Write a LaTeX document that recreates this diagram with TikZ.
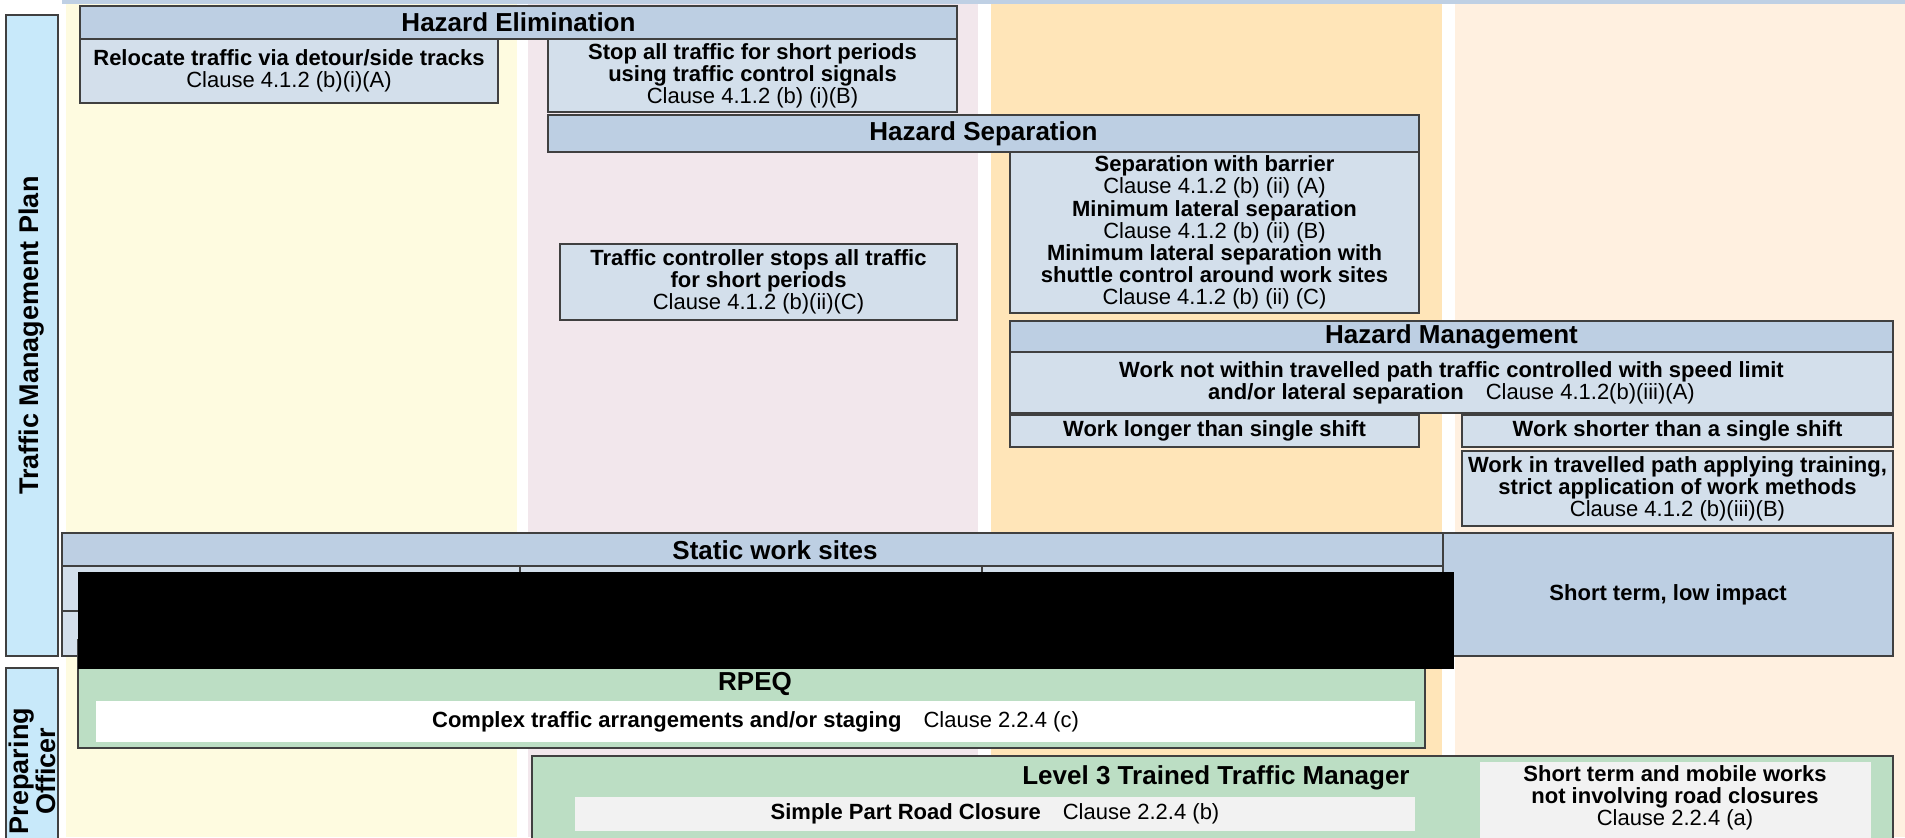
\documentclass[tikz,border=0pt]{standalone}
\usepackage{fontspec}
\setmainfont{Liberation Sans}
\usetikzlibrary{fit}
\definecolor{edge}{HTML}{404040}
\definecolor{bandblue}{HTML}{BFD0E4}
\definecolor{sideblue}{HTML}{C8E9FA}
\definecolor{headblue}{HTML}{BDCFE3}
\definecolor{itemblue}{HTML}{D3DFEB}
\definecolor{laneyellow}{HTML}{FEFBE0}
\definecolor{lanepink}{HTML}{F2E7EC}
\definecolor{laneorange}{HTML}{FFE5B8}
\definecolor{lanepeach}{HTML}{FFF0E0}
\definecolor{rolegreen}{HTML}{BCDEC4}
\definecolor{bargrey}{HTML}{F2F2F2}
\newcommand{\itemfont}{\fontsize{11}{11.1}\selectfont\bfseries}
\newcommand{\headfont}{\fontsize{13}{14}\selectfont\bfseries}
\newcommand{\clause}[1]{\textmd{Clause #1}}
\tikzset{
%Define style for header bars
headbox/.style={
	rectangle,
	draw=edge, line width=0.75pt,
	fill=headblue,
	inner sep=0pt},
%Define style for method boxes
itembox/.style={
	rectangle,
	draw=edge, line width=0.75pt,
	fill=itemblue,
	inner sep=0pt},
%Define style for the side labels
sidebox/.style={
	rectangle,
	draw=edge, line width=0.75pt,
	fill=sideblue,
	inner sep=0pt,
	align=center,
	rotate=90,
	font=\fontsize{13.5}{11.5}\selectfont\bfseries},
%Define style for officer boxes
rolebox/.style={
	rectangle,
	draw=edge, line width=0.75pt,
	fill=rolegreen,
	inner sep=0pt},
barbox/.style={
	rectangle,
	fill=#1,
	inner sep=0pt},
% text set inside the boxes
headtext/.style={
	inner sep=0pt,
	font=\headfont},
itemtext/.style={
	inner sep=0pt,
	align=center,
	font=\itemfont}
}
\begin{document}
\begin{tikzpicture}[x=0.5pt, y=-0.5pt]
\clip (0,0) rectangle (1905,837);
\fill[white] (0,0) rectangle (1905,837);
% lanes
\fill[laneyellow] (66,4) rectangle (517,837);
\fill[lanepink] (528,4) rectangle (978,837);
\fill[laneorange] (991,4) rectangle (1442,837);
\fill[lanepeach] (1455,4) rectangle (1905,837);
\fill[bandblue] (62,0) rectangle (1905,4);
% side labels
\node[sidebox, minimum width=320.5pt, minimum height=26pt] (plan) at (32,335.5) {Traffic Management Plan};
\node[sidebox, minimum width=103pt, minimum height=26pt] (officer) at (32,771) {Preparing\\Officer};
% hazard elimination
\node[headbox, fit={(80,6) (957,39)}] (elim) {};
\node[headtext] (elimtext) at (elim.center) {Hazard Elimination};
\node[itembox, fit={(80,39) (498,103)}] (detour) {};
\node[itemtext] (detourtext) at (detour.center) {Relocate traffic via detour/side tracks\\\clause{4.1.2 (b)(i)(A)}};
\node[itembox, fit={(548,39) (957,112)}] (signals) {};
\node[itemtext] (signalstext) at (signals.center) {Stop all traffic for short periods\\using traffic control signals\\\clause{4.1.2 (b) (i)(B)}};
% hazard separation
\node[headbox, fit={(548,115) (1419,152)}] (separ) {};
\node[headtext] (separtext) at (separ.center) {Hazard Separation};
\node[itembox, fit={(1010,152) (1419,313)}] (barrier) {};
\node[itemtext] (barriertext) at (barrier.center) {Separation with barrier\\\clause{4.1.2 (b) (ii) (A)}\\Minimum lateral separation\\\clause{4.1.2 (b) (ii) (B)}\\Minimum lateral separation with\\shuttle control around work sites\\\clause{4.1.2 (b) (ii) (C)}};
\node[itembox, fit={(560,244) (957,320)}] (controller) {};
\node[itemtext] (controllertext) at (controller.center) {Traffic controller stops all traffic\\for short periods\\\clause{4.1.2 (b)(ii)(C)}};
% hazard management
\node[headbox, fit={(1010,321) (1893,352)}] (manage) {};
\node[headtext] (managetext) at (manage.center) {Hazard Management};
\node[itembox, fit={(1010,352) (1893,413)}] (speed) {};
\node[itemtext] (speedtext) at (speed.center) {Work not within travelled path traffic controlled with speed limit\\and/or lateral separation\quad\clause{4.1.2(b)(iii)(A)}};
\node[itembox, fit={(1010,415) (1419,447)}] (longer) {};
\node[itemtext] (longertext) at (longer.center) {Work longer than single shift};
\node[itembox, fit={(1462,415) (1893,447)}] (shorter) {};
\node[itemtext] (shortertext) at (shorter.center) {Work shorter than a single shift};
\node[itembox, fit={(1462,451) (1893,526)}] (training) {};
\node[itemtext] (trainingtext) at (training.center) {Work in travelled path applying training,\\strict application of work methods\\\clause{4.1.2 (b)(iii)(B)}};
% static work sites
\node[headbox, fit={(62,533) (1443,566)}] (static) {};
\node[headtext] (statictext) at (775,550) {Static work sites};
\node[itembox, fit={(62,566) (520,611)}] (cellA) {};
\node[itembox, fit={(62,611) (520,656)}] (cellB) {};
\node[itembox, fit={(520,566) (982,656)}] (cellC) {};
\node[itembox, fit={(982,566) (1443,656)}] (cellD) {};
\node[headbox, fit={(1443,533) (1893,656)}] (lowimpact) {};
\node[itemtext] (lowimpacttext) at (lowimpact.center) {Short term, low impact};
% officers
\node[rolebox, fit={(78,640) (1425,748)}] (rpeq) {};
\node[barbox=white, fit={(96,701) (1415,742)}] (complex) {};
\node[itemtext] (complextext) at (complex.center) {Complex traffic arrangements and/or staging\quad\clause{2.2.4 (c)}};
\node[headtext] (rpeqtext) at (755,684) {RPEQ};
\node[fill=black, inner sep=0pt, fit={(78,572) (1454,669)}] (hidden) {};
\node[rolebox, fit={(532,756) (1893,900)}] (level) {};
\node[headtext, anchor=east] (leveltext) at (1410,778) {Level 3 Trained Traffic Manager};
\node[barbox=bargrey, fit={(575,797) (1415,831)}] (partclosure) {};
\node[itemtext] (partclosuretext) at (partclosure.center) {Simple Part Road Closure\quad\clause{2.2.4 (b)}};
\node[barbox=bargrey, fit={(1480,762) (1871,900)}] (mobile) {};
\node[itemtext] (mobiletext) at (1675,798) {Short term and mobile works\\not involving road closures\\\clause{2.2.4 (a)}};
\end{tikzpicture}
\end{document}
